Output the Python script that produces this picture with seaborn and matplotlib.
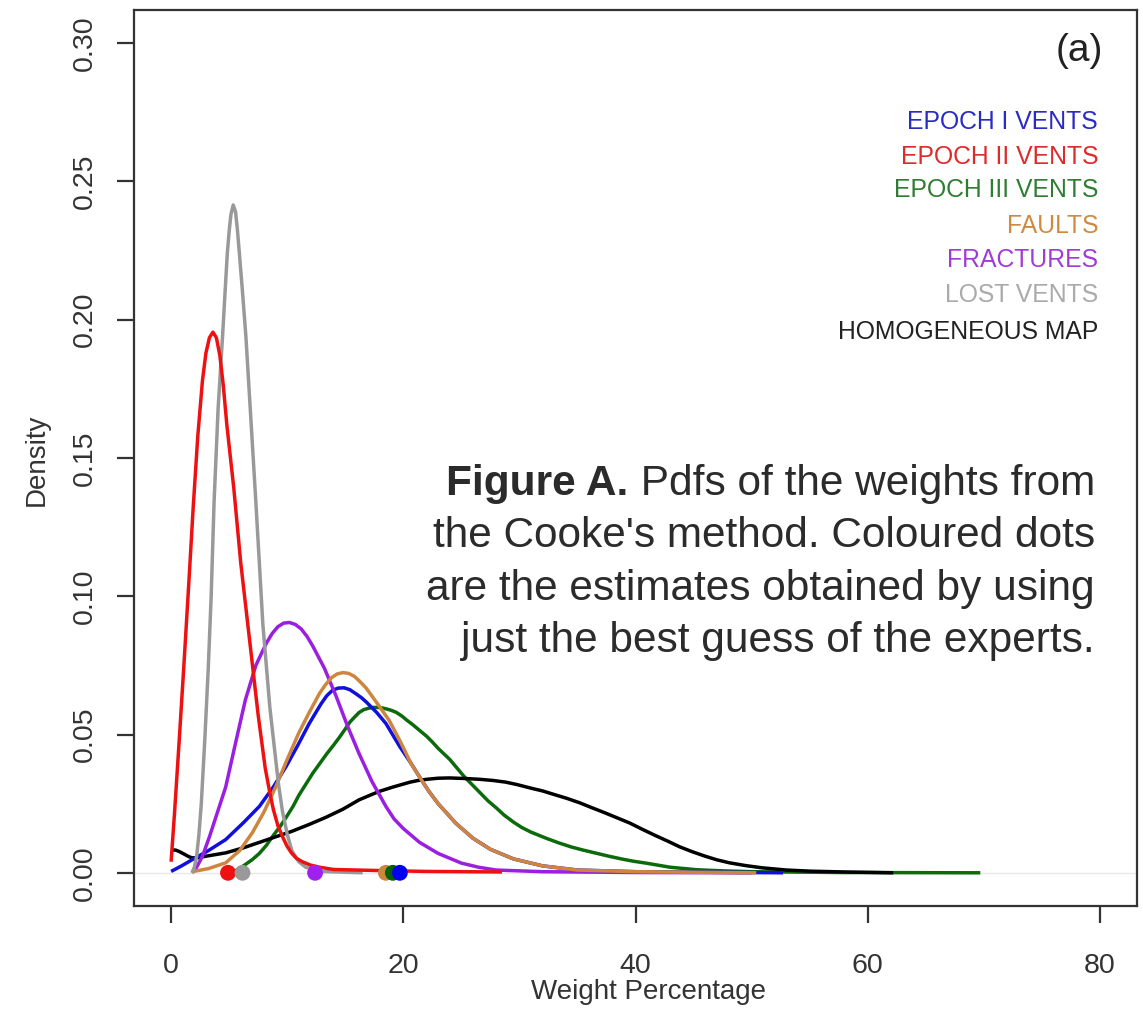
import numpy as np
import pandas as pd
import seaborn as sns
import matplotlib.pyplot as plt

# density curves (x = weight %, y = density)
red_x = [0, 0.3, 0.7, 1.1, 1.5, 1.9, 2.3, 2.7, 3.0, 3.3, 3.6, 3.9, 4.2, 4.5, 4.8, 5.4, 6.0, 6.9, 7.5, 8.1, 8.5, 8.8, 9.2, 9.6, 10.0, 10.4, 10.8, 11.3, 12.0, 12.8, 14, 18, 22, 28.5]
red_y = [0.004, 0.022, 0.048, 0.075, 0.103, 0.132, 0.158, 0.178, 0.188, 0.1935, 0.1955, 0.1935, 0.187, 0.176, 0.162, 0.139, 0.112, 0.079, 0.057, 0.038, 0.029, 0.023, 0.017, 0.013, 0.0095, 0.007, 0.0052, 0.004, 0.0028, 0.002, 0.0012, 0.0008, 0.0005, 0.0003]

gray_x = [1.8, 2.0, 2.2, 2.4, 2.6, 2.9, 3.2, 3.45, 3.7, 4.05, 4.43, 4.84, 5.0, 5.15, 5.35, 5.55, 5.7, 5.86, 6.15, 6.44, 6.9, 7.3, 7.9, 8.5, 8.9, 9.25, 9.6, 10.0, 10.4, 11.0, 11.6, 13, 16.5]
gray_y = [0.0, 0.002, 0.006, 0.014, 0.025, 0.048, 0.074, 0.100, 0.134, 0.168, 0.194, 0.224, 0.232, 0.238, 0.2415, 0.239, 0.233, 0.225, 0.210, 0.194, 0.162, 0.134, 0.090, 0.060, 0.045, 0.032, 0.022, 0.014, 0.008, 0.004, 0.002, 0.0005, 0.0]

purple_x = [1.8, 2.2, 2.7, 3.3, 4.0, 4.7, 5.5, 6.4, 7.3, 7.8, 8.2, 8.7, 9.2, 9.7, 10.2, 10.7, 11.2, 11.7, 12.2, 13.2, 14.2, 15.2, 16.2, 17.3, 18.5, 19.2, 20, 21.4, 23, 25, 26.5, 28, 32, 40, 50]
purple_y = [0.0, 0.002, 0.006, 0.013, 0.022, 0.031, 0.046, 0.0626, 0.075, 0.0795, 0.083, 0.0865, 0.089, 0.0903, 0.0905, 0.0898, 0.0882, 0.0855, 0.082, 0.074, 0.064, 0.053, 0.043, 0.033, 0.024, 0.0195, 0.016, 0.011, 0.007, 0.0035, 0.002, 0.001, 0.0004, 0.0001, 0.0]

blue_x = [0, 0.9, 1.8, 3.2, 4.7, 6.2, 7.6, 8.8, 9.9, 10.9, 11.9, 12.9, 13.4, 13.9, 14.4, 14.9, 15.4, 15.9, 16.4, 16.8, 17.7, 18.5, 19.7, 20.6, 21.5, 22.2, 23.0, 23.8, 24.5, 26.0, 27.5, 29.5, 32, 35, 40, 52.7]
blue_y = [0.0005, 0.0025, 0.0047, 0.008, 0.012, 0.018, 0.024, 0.031, 0.0384, 0.046, 0.054, 0.061, 0.064, 0.066, 0.0668, 0.0669, 0.0662, 0.0648, 0.0633, 0.0618, 0.058, 0.054, 0.0456, 0.040, 0.034, 0.0295, 0.025, 0.0213, 0.018, 0.0125, 0.0085, 0.005, 0.0025, 0.001, 0.0004, 0.0]

orange_x = [1.8, 3.2, 4.7, 5.9, 7.0, 8.0, 9.0, 10.0, 11.0, 11.9, 12.8, 13.3, 13.8, 14.3, 14.8, 15.3, 15.8, 16.3, 16.8, 17.8, 18.8, 19.8, 20.6, 21.5, 22.2, 23.0, 23.8, 24.5, 26.0, 27.5, 29.5, 32, 35, 40, 50.4]
orange_y = [0.0004, 0.0015, 0.0036, 0.008, 0.0145, 0.022, 0.031, 0.041, 0.0506, 0.058, 0.065, 0.068, 0.0705, 0.0719, 0.0724, 0.0721, 0.071, 0.069, 0.0668, 0.061, 0.055, 0.047, 0.040, 0.034, 0.0295, 0.025, 0.0213, 0.018, 0.0125, 0.0085, 0.005, 0.0025, 0.001, 0.0004, 0.0]

green_x = [5.2, 5.8, 6.4, 7.0, 7.6, 8.2, 8.8, 9.4, 9.9, 10.5, 11.0, 11.6, 12.2, 12.8, 13.4, 14.0, 14.5, 15.0, 15.4, 15.8, 16.2, 16.6, 17.0, 17.4, 17.8, 18.2, 18.6, 19.0, 19.4, 19.9, 20.3, 20.8, 21.2, 21.6, 22.0, 22.5, 23.0, 23.5, 24.0, 24.6, 25.2, 25.9, 26.6, 27.3, 28.0, 28.7, 29.5, 30.2, 31.0, 32.3, 33.4, 34.5, 35.5, 36.6, 37.7, 38.8, 39.8, 40.9, 43, 45.3, 47.5, 50, 58, 69.7]
green_y = [0.0, 0.0013, 0.003, 0.0048, 0.007, 0.0099, 0.0135, 0.0168, 0.020, 0.024, 0.028, 0.032, 0.036, 0.0395, 0.043, 0.0462, 0.049, 0.052, 0.0545, 0.0563, 0.058, 0.059, 0.0595, 0.0598, 0.0598, 0.0596, 0.0592, 0.0587, 0.058, 0.0566, 0.0552, 0.0536, 0.0522, 0.0508, 0.0494, 0.0473, 0.045, 0.043, 0.041, 0.038, 0.035, 0.032, 0.029, 0.026, 0.0235, 0.0208, 0.0183, 0.0164, 0.0147, 0.0125, 0.0108, 0.0093, 0.0082, 0.0071, 0.006, 0.005, 0.0042, 0.0035, 0.002, 0.0011, 0.0007, 0.0004, 0.0001, 0.0]

black_x = [0, 0.4, 0.7, 1.1, 1.5, 1.8, 2.4, 3.0, 4.7, 6.2, 7.6, 9.0, 10.4, 11.9, 13.3, 14.8, 16.2, 17.9, 19.1, 20.6, 21.3, 22.0, 23.0, 24.0, 25.3, 26.6, 27.7, 28.8, 29.8, 30.9, 32.0, 33.0, 34.1, 35.2, 36.2, 37.3, 38.4, 39.5, 40.6, 41.7, 42.8, 43.8, 44.9, 46.0, 47.0, 48.1, 49.5, 50.9, 53, 55, 58, 62.2]
black_y = [0.0083, 0.0082, 0.0077, 0.0068, 0.0059, 0.0054, 0.0055, 0.006, 0.0072, 0.009, 0.011, 0.013, 0.015, 0.0175, 0.020, 0.023, 0.0264, 0.0294, 0.031, 0.0328, 0.0334, 0.0338, 0.0342, 0.0343, 0.0341, 0.0338, 0.0334, 0.0328, 0.0319, 0.0307, 0.0296, 0.0283, 0.0269, 0.0253, 0.0236, 0.0218, 0.0199, 0.018, 0.0157, 0.0135, 0.0114, 0.0094, 0.0076, 0.006, 0.0047, 0.0036, 0.0026, 0.0018, 0.001, 0.0006, 0.0003, 0.0]

# best-guess estimates (dots on the zero line)
dot_x = [4.9, 6.15, 12.4, 18.5, 19.1, 19.7]
dot_colors = ['#ee1111', '#999999', '#a020f0', '#cd853f', '#006400', '#0000ee']

legend_labels = ['EPOCH I VENTS', 'EPOCH II VENTS', 'EPOCH III VENTS', 'FAULTS',
                 'FRACTURES', 'LOST VENTS', 'HOMOGENEOUS MAP']
legend_colors = ['#2a2ac4', '#e02a2a', '#2e7d32', '#d08a40', '#a23ad6', '#aaaaaa', '#222222']

sns.set_style('ticks')
plt.rcParams['font.family'] = ['Liberation Sans', 'DejaVu Sans']

fig, ax = plt.subplots(figsize=(11.43, 10.09), dpi=100)
fig.subplots_adjust(left=0.1172, right=0.9948, bottom=0.1021, top=0.9901)

ax.axhline(0, color='#e8e8e8', lw=1, zorder=0.5)

curves = [
    (green_x, green_y, '#0b6b0b'),
    (black_x, black_y, '#000000'),
    (blue_x, blue_y, '#1010dd'),
    (purple_x, purple_y, '#9b1fe0'),
    (orange_x, orange_y, '#cd853f'),
    (gray_x, gray_y, '#999999'),
    (red_x, red_y, '#ee1111'),
]
for xs, ys, col in curves:
    df = pd.DataFrame({'x': xs, 'y': ys})
    sns.lineplot(data=df, x='x', y='y', color=col, lw=2.5, sort=False,
                 estimator=None, ax=ax, solid_joinstyle='round',
                 solid_capstyle='butt')

dots = pd.DataFrame({'x': dot_x, 'y': [0.0] * len(dot_x), 'c': dot_colors})
for _, r in dots.iterrows():
    sns.scatterplot(x=[r['x']], y=[r['y']], color=r['c'], s=130,
                    edgecolor='none', ax=ax, zorder=5)

ax.set_xlim(-3.2, 83.2)
ax.set_ylim(-0.012, 0.312)
ax.set_xticks([0, 20, 40, 60, 80])
ax.set_yticks([0.00, 0.05, 0.10, 0.15, 0.20, 0.25, 0.30])
ax.set_yticklabels(['0.00', '0.05', '0.10', '0.15', '0.20', '0.25', '0.30'])
ax.tick_params(axis='both', direction='out', length=12, width=1.6, color='#333333',
               labelsize=20.5, labelcolor='#333333', bottom=True, left=True)
ax.tick_params(axis='x', pad=22)
ax.tick_params(axis='y', pad=14)
for lab in ax.get_yticklabels():
    lab.set_rotation(90)
    lab.set_va('center')
for sp in ax.spines.values():
    sp.set_visible(True)
    sp.set_color('#333333')
    sp.set_linewidth(1.6)

ax.set_xlabel('Weight Percentage', fontsize=20, color='#333333')
ax.set_ylabel('Density', fontsize=20, color='#333333')
ax.xaxis.set_label_coords(0.5125, -0.082)
ax.yaxis.set_label_coords(-0.0837, 0.4985)

ax.text(0.9661, 0.9431, '(a)', transform=ax.transAxes, ha='right', va='baseline',
        fontsize=28, color='#222222')

legend_y = [0.8667, 0.8285, 0.7916, 0.7515, 0.7135, 0.6744, 0.6331]
for lab, col, yy in zip(legend_labels, legend_colors, legend_y):
    ax.text(0.9611, yy, lab, transform=ax.transAxes, ha='right', va='baseline',
            fontsize=17.8, color=col)

caption = [" Pdfs of the weights from",
           "the Cooke's method. Coloured dots",
           "are the estimates obtained by using",
           "just the best guess of the experts."]
caption_y = [0.4587, 0.4007, 0.3415, 0.2835]
cap_texts = []
for line, yy in zip(caption, caption_y):
    t = ax.text(0.958, yy, line, transform=ax.transAxes, ha='right', va='baseline',
                fontsize=30.5, color='#2b2b2b')
    cap_texts.append(t)

# bold "Figure A." placed right before the first caption line
fig.canvas.draw()
bb = cap_texts[0].get_window_extent(renderer=fig.canvas.get_renderer())
x_left = ax.transAxes.inverted().transform((bb.x0, bb.y0))[0]
ax.text(x_left, caption_y[0], 'Figure A.', transform=ax.transAxes, ha='right',
        va='baseline', fontsize=30.5, fontweight='bold', color='#2b2b2b')

plt.savefig('out.png', dpi=100)
